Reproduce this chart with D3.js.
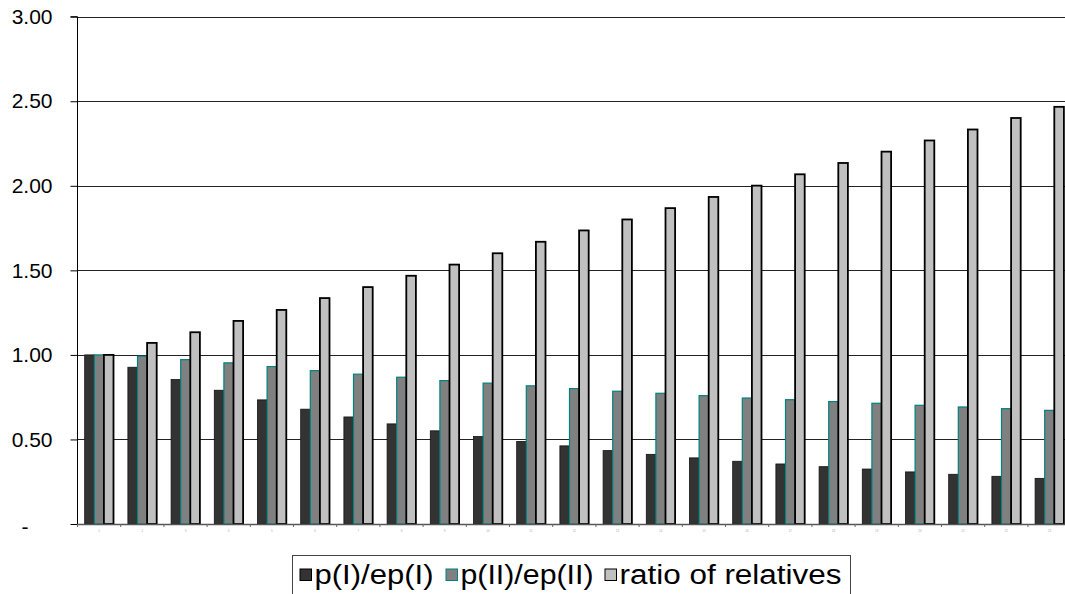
<!DOCTYPE html>
<html><head><meta charset="utf-8">
<script src="https://cdn.jsdelivr.net/npm/d3@7"></script>
<style>body{margin:0;background:#fff}svg{display:block}text{font-family:"Liberation Sans",Arial,sans-serif}</style>
</head><body><svg id="c" width="1065" height="594"></svg>
<script>
const categories = d3.range(1, 24).map(String);
const seriesNames = ["p(I)/ep(I)", "p(II)/ep(II)", "ratio of relatives"];
const pI  = [1.00,0.927,0.854,0.791,0.734,0.679,0.633,0.592,0.551,0.517,0.488,0.462,0.434,0.412,0.391,0.371,0.355,0.339,0.325,0.308,0.294,0.282,0.270];
const pII = [1.00,0.992,0.972,0.953,0.931,0.907,0.886,0.868,0.848,0.833,0.817,0.801,0.785,0.773,0.759,0.745,0.735,0.724,0.714,0.702,0.692,0.682,0.672];
const ratio=[1.00,1.071,1.134,1.201,1.266,1.336,1.401,1.468,1.534,1.601,1.669,1.736,1.801,1.868,1.934,2.001,2.068,2.135,2.202,2.268,2.333,2.401,2.467];
const yTicks = [0,0.5,1,1.5,2,2.5,3];
const yTickLabels = ["-","0.50","1.00","1.50","2.00","2.50","3.00"];

const fills = ["#333333","#808080","#C0C0C0"];
const strokes = ["#111111","#008080","#000000"];
const strokeW = [0.8,1.2,1.8];

const svg = d3.select("#c");
const plotLeft = 77.5, step = 43.2, plotTop = 16.7, plotBottom = 524;
const x0 = d3.scaleBand().domain(categories).range([plotLeft, plotLeft + step*categories.length]).paddingInner(0).paddingOuter(0);
const x1 = d3.scaleBand().domain(seriesNames).range([0, x0.bandwidth()]).paddingInner(0).paddingOuter(0.75);
const y = d3.scaleLinear().domain([0,3]).range([plotBottom, plotTop]);
const series = [pI, pII, ratio];

// gridlines
svg.append("g").selectAll("line").data(yTicks.filter(d=>d>0)).join("line")
  .attr("x1", plotLeft).attr("x2", 1065).attr("y1", d=>Math.round(y(d))+0.5).attr("y2", d=>Math.round(y(d))+0.5)
  .attr("stroke", "#222").attr("stroke-width", 1.1);

// bars
series.forEach((vals, si) => {
  svg.append("g").selectAll("rect").data(vals).join("rect")
    .attr("x", (d,i)=>x0(categories[i]) + x1(seriesNames[si]))
    .attr("y", d=>y(d))
    .attr("width", x1.bandwidth())
    .attr("height", d=>plotBottom - y(d))
    .attr("fill", fills[si]).attr("stroke", strokes[si]).attr("stroke-width", strokeW[si]);
});

// y axis
const yAxis = d3.axisLeft(y).tickValues(yTicks).tickSize(7).tickFormat((d,i)=>yTickLabels[i]);
const gy = svg.append("g").attr("transform", `translate(${plotLeft},0)`).call(yAxis);
gy.select(".domain").attr("stroke","#000").attr("d", `M-7,${plotTop}H0V${plotBottom}`);
gy.selectAll(".tick line").attr("stroke","#000");
gy.selectAll(".tick text").attr("font-size", 21).attr("fill","#000").attr("x", -25)
  .attr("font-family","Liberation Sans, Arial, sans-serif");
gy.selectAll(".tick text").filter((d)=>d===0).attr("text-anchor","start").attr("x", -56).attr("dy","0.45em");

// x axis
const xAxis = d3.axisBottom(x0).tickSize(0).tickFormat(d=>d);
const gx = svg.append("g").attr("transform", `translate(0,${plotBottom})`).call(xAxis);
gx.select(".domain").attr("stroke","#555").attr("stroke-width",1.5);
gx.selectAll(".tick text").attr("font-size", 3).attr("fill","#aaa").attr("dy", "5");
svg.append("g").selectAll("line").data(categories).join("line")
  .attr("x1", d=>x0(d)).attr("x2", d=>x0(d)).attr("y1", plotBottom).attr("y2", plotBottom+3)
  .attr("stroke","#666");

// legend
const lg = svg.append("g");
lg.append("rect").attr("x", 292.5).attr("y", 555.5).attr("width", 558).attr("height", 45)
  .attr("fill","#fff").attr("stroke","#444").attr("stroke-width",1);
const legX = [300, 446, 605];
const legW = [119, 133, 222];
seriesNames.forEach((n, i) => {
  lg.append("rect").attr("x", legX[i]).attr("y", 569).attr("width", 11.5).attr("height", 11.5)
    .attr("fill", fills[i]).attr("stroke", i===1?"#008080":"#000").attr("stroke-width", 1);
  lg.append("text").attr("x", legX[i]+14.5).attr("y", 584).attr("font-size", 27).attr("fill","#000")
    .attr("textLength", legW[i]).attr("lengthAdjust","spacingAndGlyphs").text(n);
});
</script></body></html>
